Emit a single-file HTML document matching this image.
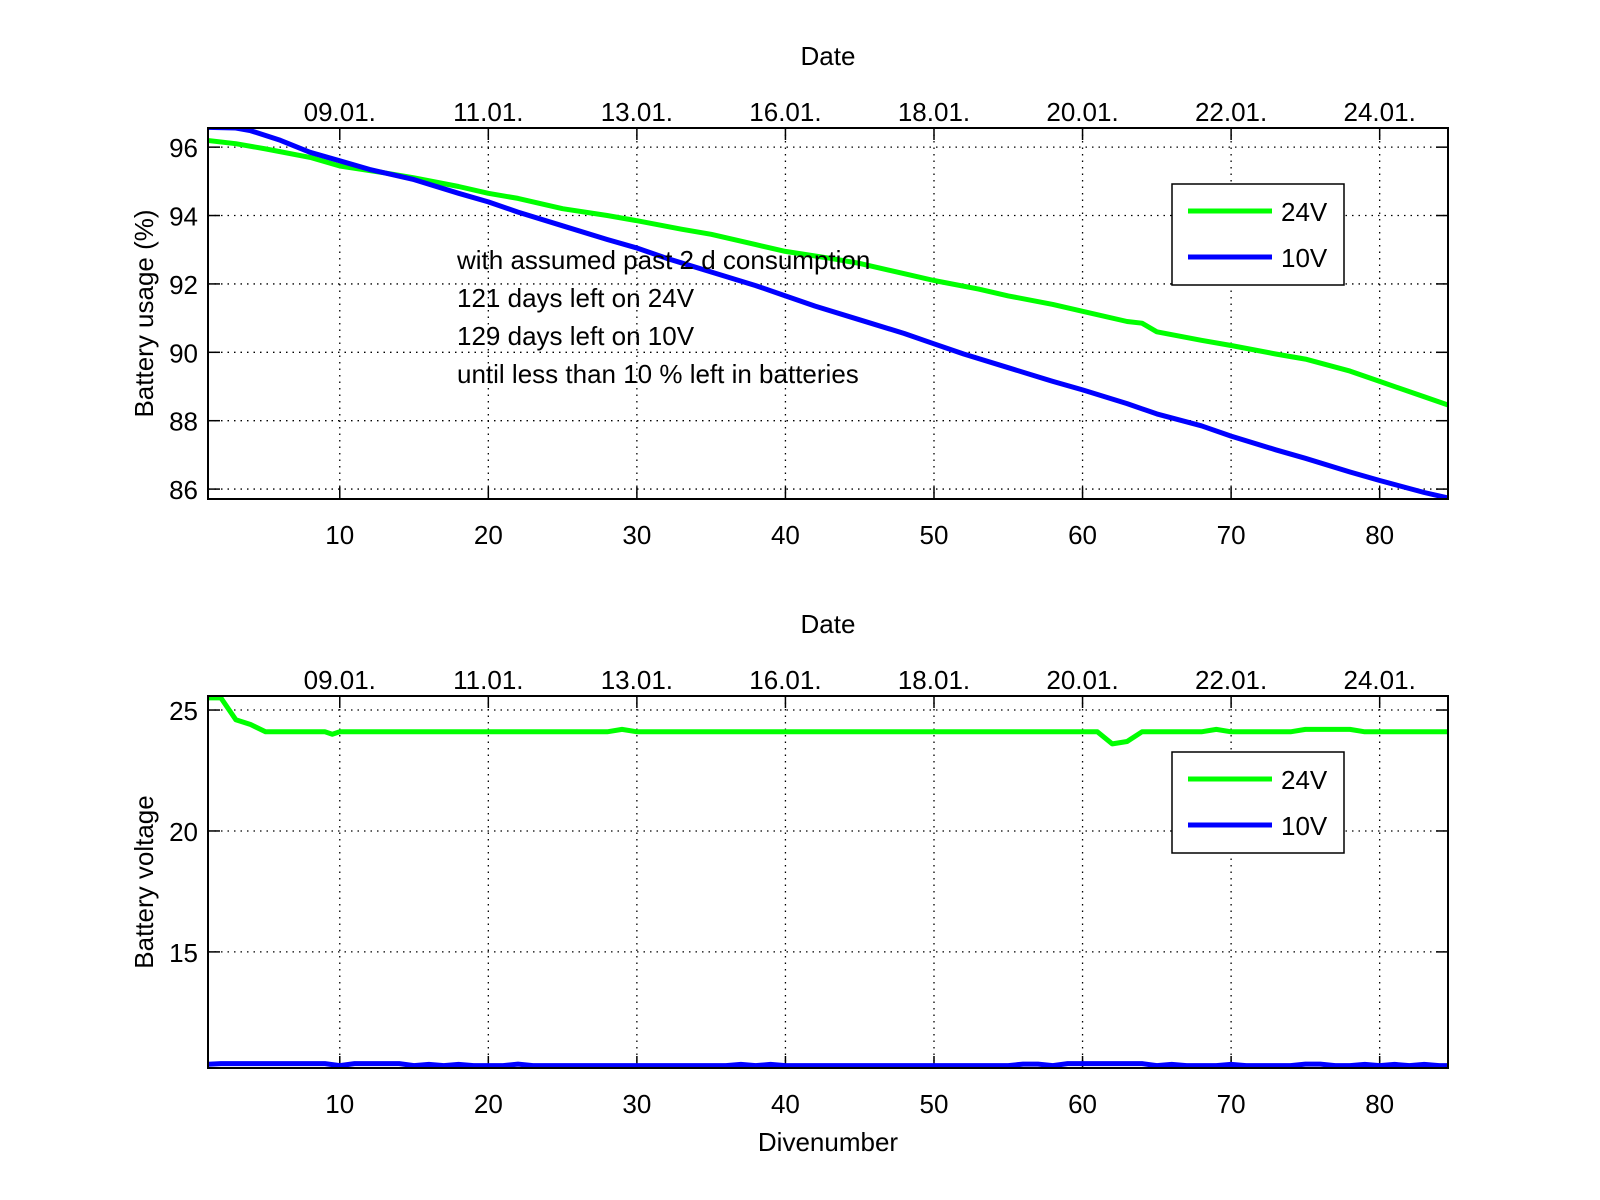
<!DOCTYPE html>
<html><head><meta charset="utf-8"><style>
html,body{margin:0;padding:0;background:#fff;width:1600px;height:1200px;overflow:hidden}
svg text{font-family:"Liberation Sans",sans-serif;fill:#000}
</style></head><body>
<svg id="chart" width="1600" height="1200" viewBox="0 0 1600 1200" xmlns="http://www.w3.org/2000/svg"></svg>
<script>
const xTicks=[10,20,30,40,50,60,70,80];
const dateLabels=["09.01.","11.01.","13.01.","16.01.","18.01.","20.01.","22.01.","24.01."];
const usageTicks=[86,88,90,92,94,96];
const voltTicks=[15,20,25];
const usage24x=[1,3,5,8,10,13,15,18,20,22,25,28,30,33,35,38,40,43,45,48,50,53,55,58,60,63,64,65,68,70,73,75,78,80,83,85];
const usage24=[96.2,96.1,95.95,95.7,95.45,95.25,95.1,94.85,94.65,94.5,94.2,94.0,93.85,93.6,93.45,93.15,92.95,92.75,92.6,92.3,92.1,91.85,91.65,91.4,91.2,90.9,90.85,90.6,90.35,90.2,89.95,89.8,89.45,89.15,88.7,88.4];
const usage10x=[1,3,4,6,8,10,12,15,18,20,22,25,28,30,32,35,38,40,42,45,48,50,52,55,58,60,63,65,68,70,73,75,78,80,83,85];
const usage10=[96.58,96.56,96.48,96.2,95.85,95.6,95.35,95.05,94.65,94.4,94.1,93.7,93.3,93.05,92.75,92.35,91.95,91.65,91.35,90.95,90.55,90.25,89.95,89.55,89.15,88.9,88.5,88.2,87.85,87.55,87.15,86.9,86.5,86.25,85.9,85.7];
const volt24x=[1,2,3,4,5,9,9.5,10,28,29,30,61,62,63,64,68,69,70,74,75,78,79,85];
const volt24=[25.5,25.5,24.6,24.4,24.1,24.1,24.0,24.1,24.1,24.2,24.1,24.1,23.6,23.7,24.1,24.1,24.2,24.1,24.1,24.2,24.2,24.1,24.1];
const volt10=[10.35,10.38,10.38,10.38,10.38,10.38,10.38,10.38,10.38,10.3,10.38,10.38,10.38,10.38,10.3,10.35,10.3,10.35,10.3,10.3,10.3,10.36,10.3,10.3,10.3,10.3,10.3,10.3,10.3,10.3,10.3,10.3,10.3,10.3,10.3,10.3,10.35,10.3,10.35,10.3,10.3,10.3,10.3,10.3,10.3,10.3,10.3,10.3,10.3,10.3,10.3,10.3,10.3,10.3,10.3,10.36,10.36,10.3,10.38,10.38,10.38,10.38,10.38,10.38,10.3,10.35,10.3,10.3,10.3,10.35,10.3,10.3,10.3,10.3,10.36,10.36,10.3,10.3,10.35,10.3,10.35,10.3,10.35,10.3,10.3];

const NS="http://www.w3.org/2000/svg";
const svg=document.getElementById('chart');
function mk(tag,attrs,parent){const e=document.createElementNS(NS,tag);for(const k in attrs)e.setAttribute(k,attrs[k]);(parent||svg).appendChild(e);return e;}
function txt(s,x,y,anchor,size,parent){const t=mk('text',{x:x,y:y,'text-anchor':anchor||'middle','font-size':size||26},parent);t.textContent=s;return t;}

const L=208,R=1448,xMin=1.13,xMax=84.6;
function sx(v){return L+(v-xMin)/(xMax-xMin)*(R-L);}

function panel(name,top,bottom,yMin,yMax,yTicks,ylabel,series,xlabel){
  const g=mk('g',{});
  
  
  const sy=v=>bottom-(v-yMin)/(yMax-yMin)*(bottom-top);
  mk('rect',{x:L,y:top,width:R-L,height:bottom-top,fill:'#fff'},g);
  // grid
  xTicks.forEach((t,i)=>{
    const gl=mk('line',{x1:sx(t),x2:sx(t),y1:top,y2:bottom,stroke:'#000','stroke-width':1.3,'stroke-dasharray':'1.5 5'},g);
    
    
    mk('line',{x1:sx(t),x2:sx(t),y1:bottom,y2:bottom-12,stroke:'#000','stroke-width':1.5},g);
    mk('line',{x1:sx(t),x2:sx(t),y1:top,y2:top+12,stroke:'#000','stroke-width':1.5},g);
    const tl=txt(String(t),sx(t),bottom+45,'middle',26,g);
    
    
    const dl=txt(dateLabels[i],sx(t),top-7,'middle',26,g);
    
    
  });
  yTicks.forEach(t=>{
    const gl=mk('line',{x1:L,x2:R,y1:sy(t),y2:sy(t),stroke:'#000','stroke-width':1.3,'stroke-dasharray':'1.5 5'},g);
    
    
    mk('line',{x1:L,x2:L+12,y1:sy(t),y2:sy(t),stroke:'#000','stroke-width':1.5},g);
    mk('line',{x1:R,x2:R-12,y1:sy(t),y2:sy(t),stroke:'#000','stroke-width':1.5},g);
    const tl=txt(String(t),L-10,sy(t)+10,'end',26,g);
    
    
  });
  const clipId='clip'+name;
  const cp=mk('clipPath',{id:clipId},g);
  mk('rect',{x:L,y:top,width:R-L,height:bottom-top},cp);
  series.forEach(s=>{
    const d=s.xs.map((x,i)=>(i?'L':'M')+sx(x).toFixed(1)+' '+sy(s.ys[i]).toFixed(1)).join(' ');
    const p=mk('path',{d:d,fill:'none',stroke:s.color,'stroke-width':5,'stroke-linejoin':'round','clip-path':'url(#'+clipId+')'},g);
    
    
  });
  mk('rect',{x:L,y:top,width:R-L,height:bottom-top,fill:'none',stroke:'#000','stroke-width':2},g);
  const yl=txt(ylabel,0,0,'middle',26,g);
  yl.setAttribute('transform','translate(153,'+((top+bottom)/2)+') rotate(-90)');
  
  
  const dt=txt('Date',(L+R)/2,top-63,'middle',26,g);
  
  
  if(xlabel){const xl=txt(xlabel,(L+R)/2,bottom+83,'middle',26,g);
    
    }
  // legend
  const lg=mk('g',{},g);
  
  
  const ly=top+56;
  mk('rect',{x:1172,y:ly,width:172,height:101,fill:'#fff',stroke:'#000','stroke-width':1.5},lg);
  [['24V','#00ff00',27],['10V','#0000ff',73]].forEach(e=>{
    const en=mk('g',{},lg);
    
    
    mk('line',{x1:1188,x2:1272,y1:ly+e[2],y2:ly+e[2],stroke:e[1],'stroke-width':5},en);
    txt(e[0],1281,ly+e[2]+10,'start',26,en);
  });
  return g;
}
const xs85=volt10.map((v,i)=>i+1);
panel('usage-panel',128,499,85.71,96.56,usageTicks,'Battery usage (%)',[
  {name:'usage-24v-line',xs:usage24x,ys:usage24,color:'#00ff00'},
  {name:'usage-10v-line',xs:usage10x,ys:usage10,color:'#0000ff'}],null);
panel('voltage-panel',696,1068,10.2,25.58,voltTicks,'Battery voltage',[
  {name:'voltage-24v-line',xs:volt24x,ys:volt24,color:'#00ff00'},
  {name:'voltage-10v-line',xs:xs85,ys:volt10,color:'#0000ff'}],'Divenumber');
const ann=mk('g',{});


["with assumed past 2 d consumption","121 days left on 24V","129 days left on 10V","until less than 10 % left in batteries"].forEach((s,i)=>txt(s,457,269+38*i,'start',26,ann));
</script>
</body></html>
